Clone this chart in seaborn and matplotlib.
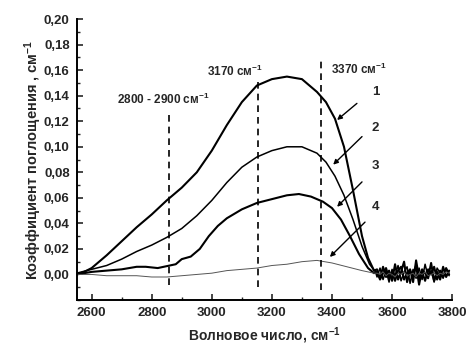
import numpy as np
import pandas as pd
import matplotlib
matplotlib.use("Agg")
import matplotlib.pyplot as plt
import seaborn as sns

# ---------------- data ----------------
x1 = [2550, 2575, 2600, 2650, 2700, 2750, 2800, 2850, 2900, 2950, 3000, 3050, 3100,
      3150, 3200, 3250, 3300, 3350, 3380, 3410, 3440, 3470, 3500, 3520, 3540]
y1 = [0.000, 0.002, 0.005, 0.015, 0.026, 0.037, 0.047, 0.058, 0.068, 0.080, 0.097,
      0.117, 0.135, 0.148, 0.153, 0.155, 0.153, 0.143, 0.135, 0.122, 0.100, 0.066,
      0.030, 0.013, 0.003]

x2 = [2550, 2600, 2650, 2700, 2750, 2800, 2850, 2900, 2950, 3000, 3050, 3100, 3150,
      3200, 3250, 3300, 3350, 3380, 3410, 3440, 3470, 3500, 3525, 3545]
y2 = [0.001, 0.004, 0.007, 0.012, 0.018, 0.023, 0.029, 0.036, 0.046, 0.058, 0.072,
      0.084, 0.092, 0.097, 0.100, 0.100, 0.095, 0.088, 0.077, 0.062, 0.043, 0.022,
      0.008, 0.002]

x3 = [2550, 2600, 2650, 2700, 2750, 2780, 2820, 2860, 2880, 2900, 2930, 2960, 2990,
      3020, 3050, 3100, 3150, 3200, 3250, 3290, 3330, 3370, 3400, 3430, 3460, 3490,
      3520, 3540]
y3 = [0.000, 0.002, 0.003, 0.004, 0.006, 0.006, 0.005, 0.007, 0.008, 0.012, 0.014,
      0.020, 0.030, 0.038, 0.044, 0.051, 0.056, 0.059, 0.062, 0.063, 0.061, 0.057,
      0.052, 0.043, 0.030, 0.016, 0.005, 0.001]

x4 = [2550, 2600, 2650, 2700, 2750, 2800, 2850, 2900, 2950, 3000, 3050, 3100, 3150,
      3200, 3250, 3300, 3350, 3400, 3450, 3500, 3540]
y4 = [0.000, 0.000, -0.001, -0.001, -0.001, -0.002, -0.002, -0.001, 0.000, 0.001,
      0.003, 0.004, 0.005, 0.007, 0.008, 0.010, 0.011, 0.009, 0.006, 0.003, 0.001]

# noisy tail (3550..3790)
x_tail = [3550, 3560, 3570, 3580, 3590, 3600, 3610, 3620, 3630, 3640, 3650, 3660, 3670,
          3680, 3690, 3700, 3710, 3720, 3730, 3740, 3750, 3760, 3770, 3780, 3790]
t1 = [0.004, -0.003, 0.006, -0.002, 0.003, -0.005, 0.008, -0.004, 0.002, 0.010, -0.006,
      0.003, -0.002, 0.007, -0.008, 0.004, 0.001, -0.003, 0.009, -0.005, 0.002, -0.004,
      0.006, -0.002, 0.003]
t2 = [-0.002, 0.005, -0.004, 0.003, -0.006, 0.004, -0.001, 0.007, -0.005, 0.002, 0.006,
      -0.007, 0.004, -0.003, 0.005, -0.004, 0.008, -0.002, 0.003, -0.006, 0.005, 0.001,
      -0.003, 0.004, -0.001]
t3 = [0.002, -0.004, 0.001, 0.005, -0.003, 0.002, -0.005, 0.003, 0.006, -0.004, 0.001,
      0.004, -0.006, 0.011, -0.003, 0.002, -0.005, 0.004, 0.000, 0.006, -0.004, 0.003,
      -0.002, 0.005, 0.000]
t4 = [0.001, 0.000, 0.002, -0.001, 0.001, 0.000, -0.002, 0.001, 0.000, 0.002, -0.001,
      0.000, 0.001, -0.002, 0.001, 0.000, 0.002, -0.001, 0.000, 0.001, -0.001, 0.001,
      0.000, 0.002, 0.001]

x_ticks = [2600, 2800, 3000, 3200, 3400, 3600, 3800]
y_ticks = [0.00, 0.02, 0.04, 0.06, 0.08, 0.10, 0.12, 0.14, 0.16, 0.18, 0.20]
y_tick_labels = ["0,00", "0,02", "0,04", "0,06", "0,08", "0,10", "0,12", "0,14",
                 "0,16", "0,18", "0,20"]
band_lines = [2858, 3153, 3362]
band_labels = ["2800 - 2900 см$^{-1}$", "3170 см$^{-1}$", "3370 см$^{-1}$"]
curve_labels = ["1", "2", "3", "4"]

# ---------------- style ----------------
sns.set_theme(style="ticks")
plt.rcParams["font.family"] = ["Liberation Sans", "DejaVu Sans"]
plt.rcParams["font.weight"] = "bold"
plt.rcParams["mathtext.fontset"] = "custom"
plt.rcParams["mathtext.rm"] = "Liberation Sans:bold"
plt.rcParams["mathtext.it"] = "Liberation Sans:bold"
plt.rcParams["mathtext.bf"] = "Liberation Sans:bold"

fig = plt.figure(figsize=(4.7, 3.48), dpi=100)
ax = fig.add_axes([0.163, 0.138, 0.799, 0.807])

series = [
    (x1, y1, t1, "#000000", 1.5),
    (x2, y2, t2, "#000000", 1.1),
    (x3, y3, t3, "#000000", 1.5),
    (x4, y4, t4, "#555555", 0.7),
]
for xs, ys, ts, col, lw in series:
    df = pd.DataFrame({"x": list(xs) + list(x_tail), "y": list(ys) + list(ts)})
    sns.lineplot(data=df, x="x", y="y", ax=ax, color=col, linewidth=lw,
                 estimator=None, sort=True)

# dashed vertical lines
dash = (0, (4, 3))
ax.vlines(band_lines[0], -0.008, 0.126, colors="black", linestyles=dash, lw=1.2)
ax.vlines(band_lines[1], -0.010, 0.151, colors="black", linestyles=dash, lw=1.2)
ax.vlines(band_lines[2], -0.012, 0.168, colors="black", linestyles=dash, lw=1.2)

ax.text(2838, 0.137, band_labels[0], ha="center", va="center", fontsize=8.5, fontweight="bold")
ax.text(3077, 0.159, band_labels[1], ha="center", va="center", fontsize=8.5, fontweight="bold")
ax.text(3490, 0.161, band_labels[2], ha="center", va="center", fontsize=8.5, fontweight="bold")

# curve number labels with arrows
label_pos = [(3545, 0.143), (3545, 0.115), (3545, 0.085), (3545, 0.053)]
arrow_start = [(3483, 0.134), (3500, 0.108), (3500, 0.0725), (3510, 0.041)]
arrow_end = [(3417, 0.121), (3404, 0.086), (3417, 0.053), (3393, 0.0137)]
for lab, lp, s, e in zip(curve_labels, label_pos, arrow_start, arrow_end):
    ax.text(lp[0], lp[1], lab, ha="center", va="center", fontsize=9.5, fontweight="bold")
    ax.annotate("", xy=e, xytext=s,
                arrowprops=dict(arrowstyle="-|>", color="black", lw=1.0,
                                mutation_scale=7, shrinkA=0, shrinkB=0))

ax.set_xlim(2550, 3800)
ax.set_ylim(-0.02, 0.20)
ax.set_xticks(x_ticks)
ax.set_xticklabels([str(v) for v in x_ticks], fontsize=9.5, fontweight="bold")
ax.set_yticks(y_ticks)
ax.set_yticklabels(y_tick_labels, fontsize=9.5, fontweight="bold")
ax.set_xticks(np.arange(2600, 3800, 100), minor=True)
ax.set_yticks(np.arange(-0.02, 0.2, 0.01), minor=True)
ax.tick_params(which="major", direction="in", length=4, width=1.2, pad=5)
ax.tick_params(which="minor", direction="in", length=2.5, width=1.0)
sns.despine(ax=ax, top=True, right=True)
for sp in ["left", "bottom"]:
    ax.spines[sp].set_linewidth(1.4)
    ax.spines[sp].set_color("black")

ax.set_xlabel("Волновое число, см$^{-1}$", fontsize=10, fontweight="bold", labelpad=5)
ax.set_ylabel("Коэффициент поглощения , см$^{-1}$", fontsize=10.5, fontweight="bold",
              labelpad=0)

fig.savefig("out.png", dpi=100)
